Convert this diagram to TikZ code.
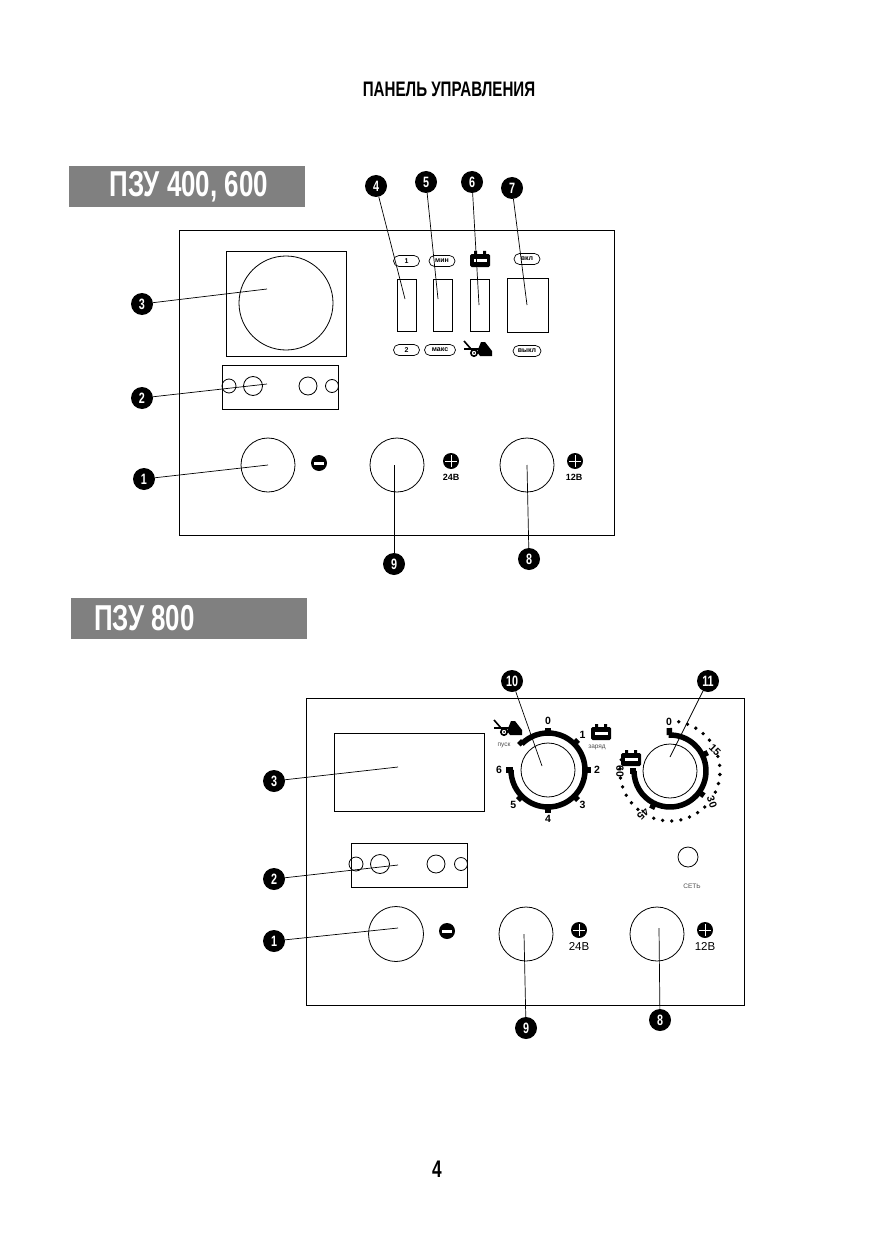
\documentclass[tikz,border=0pt]{standalone}
\usepackage{fontspec}
\setmainfont{Liberation Sans}
\newfontfamily\condfont[FakeStretch=0.72]{Liberation Sans}
\definecolor{bargray}{RGB}{128,128,128}
\tikzset{
  panel/.style={draw=black, line width=0.8pt},
  leader/.style={draw=black, line width=0.7pt},
  badge/.style={circle, fill=black, text=white, minimum size=22pt, inner sep=0pt, font=\condfont\bfseries\fontsize{15}{15}\selectfont},
  knob/.style={circle, draw=black, line width=0.8pt, inner sep=0pt},
  pill/.style={draw=black, line width=0.7pt, rounded corners=5.5pt, minimum height=11pt, inner sep=0pt, font=\bfseries\fontsize{7}{7}\selectfont},
  titlebar/.style={fill=bargray, minimum height=41pt, minimum width=236pt, inner sep=0pt},
  titletext/.style={text=white, inner sep=0pt, font=\condfont\bfseries\fontsize{36}{36}\selectfont},
  term-minus/.style={circle, fill=black, minimum size=16pt, inner sep=0pt, path picture={
    \fill[white] ([xshift=-5pt,yshift=-1.5pt]path picture bounding box.center) rectangle ([xshift=5pt,yshift=1.5pt]path picture bounding box.center);}},
  term-plus/.style={circle, fill=black, minimum size=16pt, inner sep=0pt, path picture={
    \draw[white,line width=0.8pt] ([xshift=-6pt]path picture bounding box.center) -- ([xshift=6pt]path picture bounding box.center);
    \draw[white,line width=0.8pt] ([yshift=-6pt]path picture bounding box.center) -- ([yshift=6pt]path picture bounding box.center);}},
  smalltag/.style={inner sep=0pt, font=\bfseries\fontsize{9}{9}\selectfont},
  dialnum/.style={inner sep=0pt, font=\bfseries\fontsize{10.5}{10.5}\selectfont},
  tinytag/.style={inner sep=0pt, text=black!70, font=\fontsize{6.5}{6.5}\selectfont},
  ring/.style={line width=5.5pt, draw=black}
}
% battery and tractor pictograms
\newcommand{\batteryicon}[1]{
  \begin{scope}[shift={(#1)}]
    \fill[black, rounded corners=1.5pt] (-10,-7) rectangle (10,6);
    \fill[white] (-6.5,-1.5) rectangle (6.5,1.5);
    \fill[black] (-6,6) rectangle (-3,9) (3,6) rectangle (6,9);
  \end{scope}
}
\newcommand{\tractoricon}[1]{
  \begin{scope}[shift={(#1)}]
    \draw[black, line width=1.6pt] (-14,9) -- (-7,1) -- (2,1);
    \draw[black, line width=1.2pt] (-14,1) -- (-5,1);
    \fill[black] (-1,-2) -- (3,8) -- (7,8) -- (14,-1) -- (14,-6) -- (2,-6) -- cycle;
    \draw[black, fill=white, line width=1.6pt] (-4,-3) circle (3.2);
    \fill[black] (-4,-3) circle (1);
  \end{scope}
}

\begin{document}
\begin{tikzpicture}[x=1pt, y=1pt]
  \useasboundingbox (0,-1241) rectangle (875,0);

  \node[inner sep=0pt, font=\condfont\bfseries\fontsize{21}{21}\selectfont] (heading) at (449,-89) {ПАНЕЛЬ УПРАВЛЕНИЯ};
  \node[inner sep=0pt, font=\condfont\bfseries\fontsize{24}{24}\selectfont] (pagenum) at (437,-1169) {4};

  % Upper panel
  \node[titlebar] (bar1) at (187,-186.5) {};
  \node[titletext] (bar1text) at (189,-186.5) {ПЗУ 400, 600};
  \draw[panel] (179,-230) rectangle (614,-535);
  \draw[panel] (226,-251) rectangle (346,-356);
  \node[knob, minimum size=94pt] (dial3a) at (286,-303) {};
  \draw[panel] (222,-365) rectangle (338,-409);
  \foreach \x/\d in {229/14, 253/19, 308/18, 332/13} {
    \node[knob, minimum size=\d pt] at (\x,-386) {};
  }
  \node[knob, minimum size=54pt] (k1a) at (268,-465) {};
  \node[knob, minimum size=54pt] (k9a) at (397,-465) {};
  \node[knob, minimum size=54pt] (k8a) at (527,-465) {};
  \node[term-minus] (minusa) at (319,-463) {};
  \node[term-plus] (plus24a) at (451,-461) {};
  \node[term-plus] (plus12a) at (575,-461) {};
  \node[smalltag] (v24a) at (451,-477) {24В};
  \node[smalltag] (v12a) at (574,-477) {12В};
  % switches
  \draw[panel] (397,-279) rectangle (416.5,-331);
  \draw[panel] (433,-279) rectangle (452,-331);
  \draw[panel] (470,-279) rectangle (489,-331);
  \draw[panel] (507,-278) rectangle (548,-332);
  \node[pill, minimum width=26pt] (tag1) at (406.5,-261) {1};
  \node[pill, minimum width=26pt] (tagmin) at (442,-261) {мин};
  \node[pill, minimum width=26pt] (tagon) at (527,-259) {вкл};
  \node[pill, minimum width=26pt] (tag2) at (406.5,-350) {2};
  \node[pill, minimum width=31pt] (tagmax) at (440,-350) {макс};
  \node[pill, minimum width=28pt] (tagoff) at (527,-351) {выкл};
  \batteryicon{480,-260}
  \tractoricon{478,-350}
  % callouts
  \coordinate (c3a) at (267,-289);
  \coordinate (c2a) at (267,-384);
  \coordinate (c1a) at (268,-465);
  \coordinate (c4) at (405,-299);
  \coordinate (c5) at (438,-299);
  \coordinate (c6) at (479,-305);
  \coordinate (c7) at (527,-305);
  \coordinate (c9a) at (394,-465);
  \coordinate (c8a) at (527,-465);
  \node[badge] (b3a) at (142,-304) {3};
  \node[badge] (b2a) at (142,-398) {2};
  \node[badge] (b1a) at (144,-479) {1};
  \node[badge] (b4) at (376,-186) {4};
  \node[badge] (b5) at (426,-182) {5};
  \node[badge] (b6) at (472,-182) {6};
  \node[badge] (b7) at (512,-188) {7};
  \node[badge] (b9a) at (394,-564) {9};
  \node[badge] (b8a) at (529,-559) {8};
  \foreach \a/\b in {b3a/c3a, b2a/c2a, b1a/c1a, b4/c4, b5/c5, b6/c6, b7/c7, b9a/c9a, b8a/c8a} {
    \draw[leader] (\a) -- (\b);
  }

  % Lower panel
  \node[titlebar] (bar2) at (189,-618.5) {};
  \node[titletext, anchor=west] (bar2text) at (94,-618.5) {ПЗУ 800};
  \draw[panel] (306,-698) rectangle (744,-1005);
  \draw[panel] (334,-733) rectangle (484,-811);
  \draw[panel] (351,-843) rectangle (467,-887);
  \foreach \x/\d in {356/14, 380/19, 436/18, 461/13} {
    \node[knob, minimum size=\d pt] at (\x,-864) {};
  }
  \node[knob, minimum size=55pt] (k1b) at (396,-934) {};
  \node[knob, minimum size=54pt] (k9b) at (526,-934) {};
  \node[knob, minimum size=54pt] (k8b) at (657,-934) {};
  \node[term-minus] (minusb) at (447,-931) {};
  \node[term-plus] (plus24b) at (579,-930) {};
  \node[term-plus] (plus12b) at (705,-930) {};
  \node[inner sep=0pt, font=\fontsize{11.5}{11.5}\selectfont] (v24b) at (579,-946) {24В};
  \node[inner sep=0pt, font=\fontsize{11.5}{11.5}\selectfont] (v12b) at (705,-946) {12В};
  \node[knob, minimum size=20pt] (lamp) at (688,-857) {};
  \node[tinytag] (lamptag) at (692,-886) {СЕТЬ};
  % left dial
  \node[knob, minimum size=54pt] (d10) at (548,-770) {};
  \begin{scope}[shift={(d10)}]
    \draw[ring] (135:37) arc[start angle=135, end angle=-180, radius=37];
    \foreach \ang/\lab in {90/0, 45/1, 0/2, -45/3, -90/4, -135/5, 180/6} {
      \draw[black, line width=5.5pt] (\ang:35) -- (\ang:42.5);
      \node[dialnum] (s\lab) at (\ang:49) {\lab};
    }
    \draw[black, line width=5.5pt] (135:36) -- (135:41);
  \end{scope}
  \tractoricon{508,-729}
  \batteryicon{601,-733}
  \node[tinytag] (starttag) at (504,-745) {пуск};
  \node[tinytag] (chargetag) at (597,-747) {заряд};
  % right dial
  \node[knob, minimum size=54pt] (d11) at (670,-771) {};
  \begin{scope}[shift={(d11)}]
    \draw[ring] (92:36) arc[start angle=92, end angle=-180, radius=36];
    \foreach \ang in {26, -36, -116} {
      \draw[black, line width=5.5pt] (\ang:34) -- (\ang:42);
    }
    \draw[black, line width=5.5pt] (91:36) -- (91:43);
    \draw[black, line width=5.5pt] (180:34) -- (180:40);
    \foreach \i in {0,...,26} {
      \ifnum\i=5 \else \ifnum\i=11 \else \ifnum\i=19 \else
        \fill[black] ({80-10.5*\i}:50) circle (1.9);
      \fi\fi\fi
    }
  \end{scope}
  \node[dialnum] (t0) at (669,-722) {0};
  \node[dialnum, rotate=-45] (t15) at (715,-750) {15};
  \node[dialnum, rotate=-70] (t30) at (712,-802) {30};
  \node[dialnum, rotate=-135] (t45) at (643,-814) {45};
  \node[dialnum, rotate=-90] (t60) at (620,-771) {60};
  \batteryicon{631,-759}
  % callouts
  \coordinate (c3b) at (398,-767);
  \coordinate (c2b) at (398,-865);
  \coordinate (c1b) at (398,-928);
  \coordinate (c9b) at (524,-934);
  \coordinate (c8b) at (659,-928);
  \coordinate (c10) at (542,-766);
  \coordinate (c11) at (670,-757);
  \node[badge] (b3b) at (274,-781) {3};
  \node[badge] (b2b) at (274,-879) {2};
  \node[badge] (b1b) at (274,-941) {1};
  \node[badge] (b9b) at (526,-1028) {9};
  \node[badge] (b8b) at (660,-1020) {8};
  \node[badge] (b10) at (512,-681) {10};
  \node[badge] (b11) at (708,-681) {11};
  \foreach \a/\b in {b3b/c3b, b2b/c2b, b1b/c1b, b9b/c9b, b8b/c8b, b10/c10, b11/c11} {
    \draw[leader] (\a) -- (\b);
  }
\end{tikzpicture}
\end{document}
